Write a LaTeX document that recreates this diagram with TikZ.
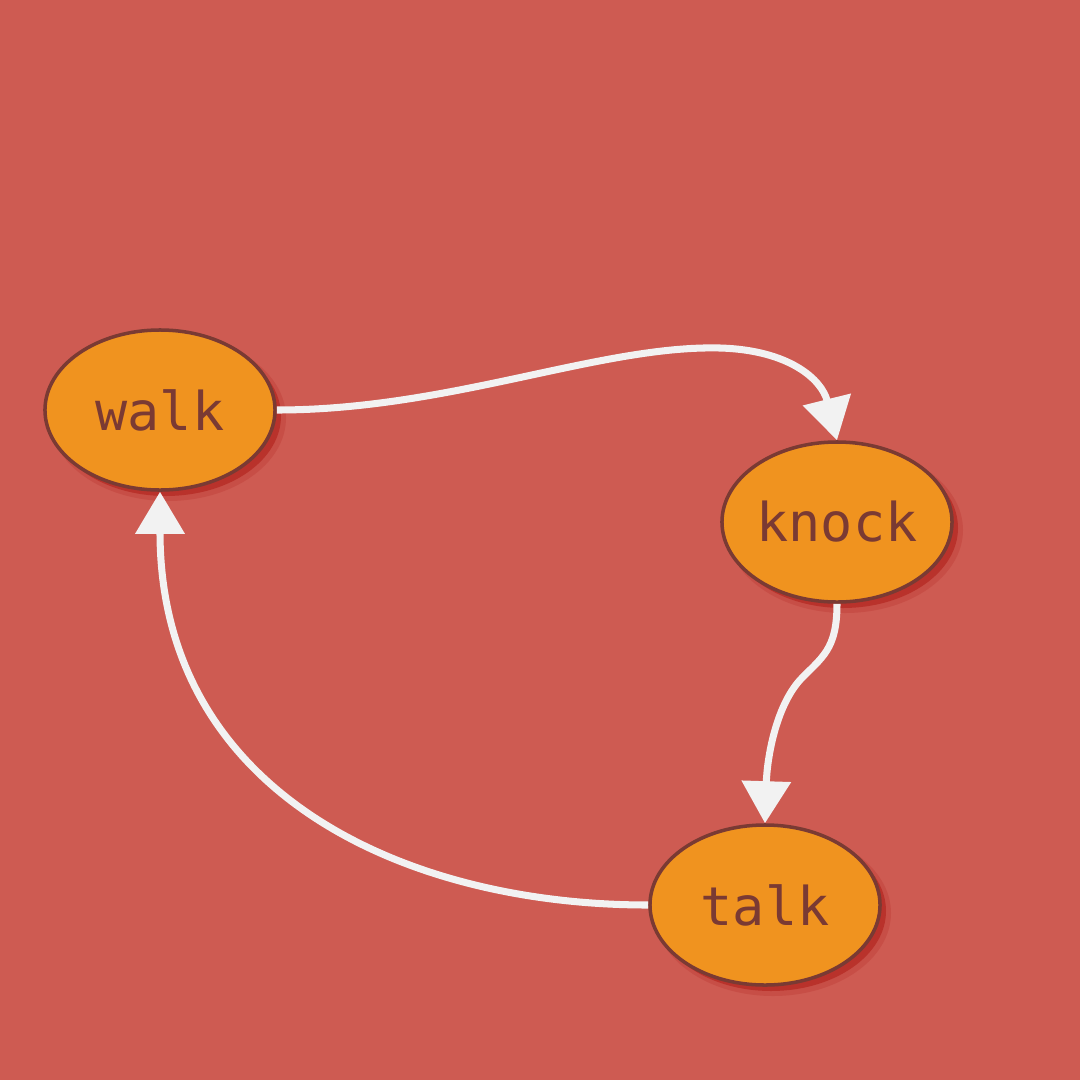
\documentclass[tikz,border=0pt]{standalone}
\usepackage{fontspec}
\newfontfamily\monofont{DejaVu Sans Mono}
\usetikzlibrary{arrows.meta,shapes.geometric}
\definecolor{bgred}{HTML}{CE5B52}
\definecolor{nodeorange}{HTML}{F0931F}
\definecolor{nodebrown}{HTML}{7A3A33}
\definecolor{shadowred}{HTML}{B9322B}
\definecolor{edgewhite}{HTML}{F2F2F2}
\tikzset{
  statenode/.style={ellipse, draw=nodebrown, line width=2.5pt, fill=nodeorange,
    minimum width=5.75cm, minimum height=4cm, inner sep=0pt,
    text=nodebrown, font=\monofont\fontsize{38}{40}\selectfont},
  flow/.style={draw=edgewhite, line width=5pt,
    -{Triangle[length=1.05cm,width=1.2cm]}}
}
\begin{document}
\begin{tikzpicture}[x=0.025cm,y=-0.025cm]
\useasboundingbox (0,0) rectangle (1080,1080);
\fill[bgred] (0,0) rectangle (1080,1080);
% shadows
\foreach \cx/\cy in {160/410, 837/522, 765/905}{
  \fill[shadowred, opacity=0.3] (\cx+8,\cy+8) ellipse [x radius=118, y radius=83];
  \fill[shadowred] (\cx+6,\cy+6) ellipse [x radius=115, y radius=80];
}
\node[statenode] (walk) at (160,410) {walk};
\node[statenode] (knock) at (837,522) {knock};
\node[statenode] (talk) at (765,905) {talk};
\draw[flow] (walk.east) .. controls (450,410) and (600,345) .. (720,348)
  .. controls (790,350) and (822,380) .. (knock.north);
\draw[flow] (knock.south) .. controls (837,650) and (822,657) .. (800,680)
  .. controls (775,708) and (767,760) .. (talk.north);
\draw[flow] (talk.west) .. controls (400,905) and (160,790) .. (walk.south);
\end{tikzpicture}
\end{document}
